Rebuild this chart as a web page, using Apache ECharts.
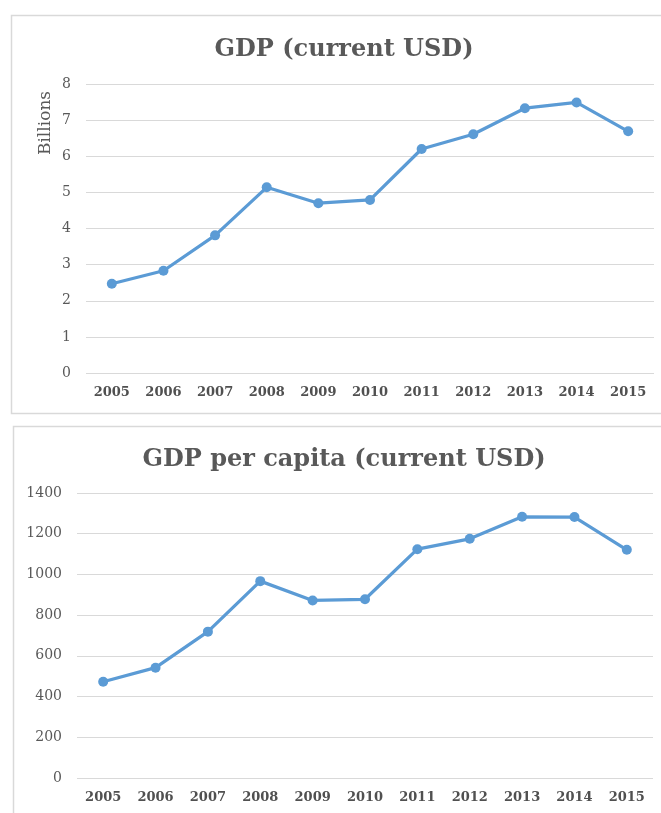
<!DOCTYPE html>
<html>
<head>
<meta charset="utf-8">
<script src="https://cdn.jsdelivr.net/npm/echarts@6/dist/echarts.min.js"></script>
<style>
html,body{margin:0;padding:0;background:#fff;}
#c{width:661px;height:813px;}
</style>
</head>
<body>
<div id="c"></div>
<script>
const years = ['2005','2006','2007','2008','2009','2010','2011','2012','2013','2014','2015'];
const gdpBillions = [2.47, 2.83, 3.81, 5.14, 4.70, 4.79, 6.20, 6.61, 7.33, 7.49, 6.69];
const gdpPerCapita = [473, 542, 719, 967, 872, 878, 1124, 1175, 1283, 1282, 1121];
const title1 = 'GDP (current USD)';
const title2 = 'GDP per capita (current USD)';
const yName1 = 'Billions';

const FONT = '"DejaVu Serif", serif';
const TXT = '#595959';
const LINE = '#5B9BD5';
const GRIDC = '#D9D9D9';

const chart = echarts.init(document.getElementById('c'), null, {renderer: 'canvas'});

function xAxis(gi) {
  return {
    type: 'category', gridIndex: gi, data: years, boundaryGap: true,
    axisLine: {show: false}, axisTick: {show: false},
    axisLabel: {color: '#505050', fontFamily: FONT, fontWeight: 'bold', fontSize: 13, margin: 13}
  };
}
function yAxis(gi, max, interval) {
  return {
    type: 'value', gridIndex: gi, min: 0, max: max, interval: interval,
    axisLine: {show: false}, axisTick: {show: false},
    axisLabel: {color: TXT, fontFamily: FONT, fontSize: 14, margin: 15,
                formatter: function (v) { return String(v); }},
    splitLine: {lineStyle: {color: GRIDC, width: 1}}
  };
}
function lineSeries(idx, data) {
  return {
    type: 'line', xAxisIndex: idx, yAxisIndex: idx, data: data,
    symbol: 'circle', symbolSize: 10,
    lineStyle: {color: LINE, width: 3.25},
    itemStyle: {color: LINE},
    animation: false
  };
}

chart.setOption({
  animation: false,
  title: [
    {text: title1, left: 339, top: 33, textAlign: 'center',
     textStyle: {color: TXT, fontFamily: FONT, fontWeight: 'bold', fontSize: 24}},
    {text: title2, left: 339, top: 443, textAlign: 'center',
     textStyle: {color: TXT, fontFamily: FONT, fontWeight: 'bold', fontSize: 24}}
  ],
  graphic: [
    {type: 'rect', shape: {x: 11.5, y: 15.5, width: 660, height: 398}, style: {fill: 'none', stroke: GRIDC, lineWidth: 1.5}, z: -1},
    {type: 'rect', shape: {x: 13.5, y: 426.5, width: 660, height: 400}, style: {fill: 'none', stroke: GRIDC, lineWidth: 1.5}, z: -1},
    {type: 'text', x: 46, y: 123, rotation: Math.PI / 2,
     style: {text: yName1, fill: TXT, font: '17px "DejaVu Serif", serif', textAlign: 'center', textVerticalAlign: 'middle'}}
  ],
  grid: [
    {left: 86, top: 84, width: 568, height: 289},
    {left: 77, top: 493, width: 576, height: 285}
  ],
  xAxis: [xAxis(0), xAxis(1)],
  yAxis: [yAxis(0, 8, 1), yAxis(1, 1400, 200)],
  series: [lineSeries(0, gdpBillions), lineSeries(1, gdpPerCapita)]
});
</script>
</body>
</html>
